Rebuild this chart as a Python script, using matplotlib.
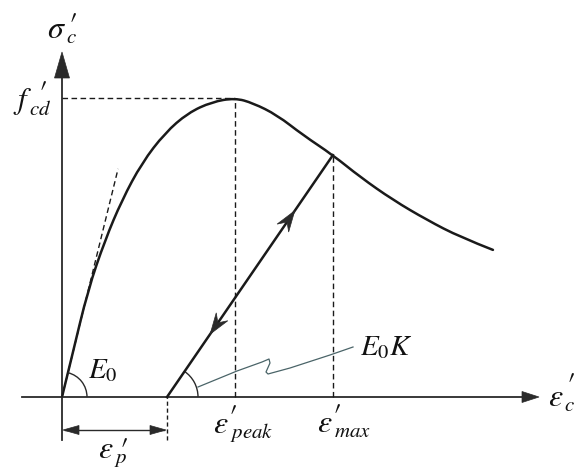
import numpy as np
import matplotlib
matplotlib.use("Agg")
import matplotlib.pyplot as plt
from matplotlib.patches import Polygon, Arc, PathPatch
from matplotlib.path import Path
from matplotlib.transforms import IdentityTransform

plt.rcParams['mathtext.fontset'] = 'stix'
plt.rcParams['font.family'] = ['DejaVu Serif']

# ---- data (normalised strain / stress, peak = 1) ----
curve_strain = [0.0, 0.058, 0.150, 0.249, 0.347, 0.462, 0.595, 0.728, 0.867, 1.0,
                1.104, 1.243, 1.393, 1.566, 1.723, 1.913, 2.110, 2.301, 2.491]
curve_stress = [0.0, 0.137, 0.358, 0.525, 0.659, 0.783, 0.883, 0.950, 0.987, 1.0,
                0.983, 0.943, 0.876, 0.809, 0.736, 0.659, 0.592, 0.535, 0.492]
eps_peak = 1.0
f_cd = 1.0
eps_max = 1.566
sig_max = 0.809
eps_p = 0.607
tangent_end = [0.324, 0.763]

# label pieces: symbol, subscript (each label carries a prime)
label_main = {"sigma": r"$\sigma$", "fcd": r"$f$", "peak": r"$\varepsilon$",
              "max": r"$\varepsilon$", "epsc": r"$\varepsilon$", "epsp": r"$\varepsilon$"}
label_sub = {"sigma": r"$c$", "fcd": r"$cd$", "peak": r"$peak$",
             "max": r"$max$", "epsc": r"$c$", "epsp": r"$p$"}
label_E0 = r"$E_0$"
label_E0K = r"$E_0K$"

W, H = 577, 473
fig = plt.figure(figsize=(W / 100, H / 100), dpi=100)
ax = fig.add_axes([0, 0, 1, 1])
ax.set_xlim(-62 / 173, (W - 62) / 173)
ax.set_ylim((397 - H) / 299, 397 / 299)
ax.axis('off')

def P(x, y):
    return ((x - 62) / 173, (397 - y) / 299)

dark = '#2a2a2a'
line_c = '#1a1a1a'
tc = '#111111'

def head(tip, tail, length, width, notch=0.0):
    t = ax.transData.transform(tip)
    b = ax.transData.transform(tail)
    d = (t - b) / np.hypot(*(t - b))
    n = np.array([-d[1], d[0]])
    base = t - d * length
    pts = [t, base + n * width / 2, t - d * length * (1 - notch), base - n * width / 2]
    ax.add_patch(Polygon(pts, closed=True, transform=IdentityTransform(),
                         facecolor=dark, edgecolor=dark, lw=0.5, zorder=5))

def smooth_path(xs, ys, **kw):
    pts = list(zip(xs, ys))
    verts = [pts[0]]
    codes = [Path.MOVETO]
    for i in range(1, len(pts) - 1):
        mid = ((pts[i][0] + pts[i + 1][0]) / 2, (pts[i][1] + pts[i + 1][1]) / 2)
        if i == len(pts) - 2:
            mid = pts[-1]
        verts += [pts[i], mid]
        codes += [Path.CURVE3, Path.CURVE3]
    ax.add_patch(PathPatch(Path(verts, codes), fill=False, **kw))

# axes lines
x0, _ = P(22, 397)
x1, _ = P(525, 397)
ax.plot([x0, x1], [0, 0], color=dark, lw=1.3)
head(P(539, 397), P(500, 397), 17, 11)
_, ytop = P(62, 70)
_, ybot = P(62, 440)
ax.plot([0, 0], [ybot, ytop], color=dark, lw=1.3)
head(P(62, 52), P(62, 100), 26, 15)

# main curve
smooth_path(curve_strain, curve_stress, color=line_c, lw=1.8, capstyle='round')

# tangent
ax.plot([0, tangent_end[0]], [0, tangent_end[1]], color=line_c, lw=1.0, ls=(0, (4, 2.5)))

# dashed guides
ax.plot([0, eps_peak], [f_cd, f_cd], color=line_c, lw=1.0, ls=(0, (4, 2.5)))
ax.plot([eps_peak, eps_peak], [0, f_cd], color=line_c, lw=1.0, ls=(0, (4, 2.5)))
ax.plot([eps_max, eps_max], [0, sig_max], color=line_c, lw=1.0, ls=(0, (4, 2.5)))
ax.plot([eps_p, eps_p], [ybot, 0], color=line_c, lw=1.0, ls=(0, (3, 2)))

# unloading / reloading line
ax.plot([eps_p, eps_max], [0, sig_max], color=line_c, lw=1.8)
def along(t):
    return (eps_p + t * (eps_max - eps_p), t * sig_max)
head(along(0.77), along(0.5), 21, 14, notch=0.35)
head(along(0.26), along(0.6), 21, 14, notch=0.35)

# eps_p dimension arrow
ya = P(0, 430)[1]
ax.plot([0.02, eps_p - 0.02], [ya, ya], color=dark, lw=1.0)
head(P(63, 430), P(100, 430), 16, 9)
head(P(166, 430), P(120, 430), 16, 9)

# angle arcs
ax.add_patch(Arc(ax.transData.transform((0, 0)), 50, 50, theta1=0, theta2=76,
                 transform=IdentityTransform(), color=dark, lw=1.0))
ax.add_patch(Arc(ax.transData.transform((eps_p, 0)), 62, 62, theta1=0, theta2=56,
                 transform=IdentityTransform(), color=dark, lw=1.0))

# leader line
lead_px = [(198, 387), (237, 371), (262, 362), (269, 359), (270, 363), (266, 372),
           (268, 374), (290, 368), (330, 355), (353, 347)]
lx, ly = zip(*[P(*p) for p in lead_px])
ax.plot(lx, ly, color='#4a6468', lw=0.9)

# text
ax.text(*P(88, 378), label_E0, fontsize=21, ha='left', va='baseline', color=tc)
ax.text(*P(360, 355), label_E0K, fontsize=21, ha='left', va='baseline', color=tc)

# (main_x, main_baseline, sub_x, sub_baseline, prime_center_x, prime_top, main_size)
layout = {
    "sigma": (47, 38, 66, 43, 72, 9, 23),
    "fcd":   (13, 109, 29, 115, 42, 77, 22),
    "peak":  (213, 433, 230, 438, 232.5, 401, 23),
    "max":   (317, 432, 334, 437, 336.5, 400, 23),
    "epsc":  (548, 406, 564, 411, 570, 369, 23),
    "epsp":  (98, 458, 114, 463, 123.5, 434, 23),
}
for key, (mx, mb, sx, sb, pxc, pt, ms) in layout.items():
    ax.text(*P(mx, mb), label_main[key], fontsize=ms, ha='left', va='baseline', color=tc)
    ax.text(*P(sx, sb), label_sub[key], fontsize=15, ha='left', va='baseline', color=tc)
    ax.text(*P(pxc, pt), r"$\prime$", fontsize=23, ha='center', va='top', color=tc)

fig.savefig("out.png", dpi=100)
